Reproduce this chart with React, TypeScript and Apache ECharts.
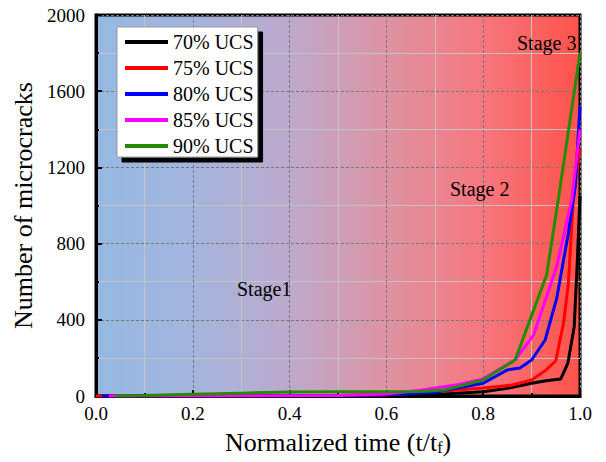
import React, { useEffect, useRef } from "react";
import * as echarts from "echarts";

// Normalized time (t/tf) and cumulative microcrack counts per load level
const t70 = [0, 0.1, 0.2, 0.3, 0.4, 0.5, 0.6, 0.67, 0.7, 0.8, 0.85, 0.9, 0.93, 0.96, 0.975, 0.988, 0.994, 1.0];
const n70 = [0, 0, 0, 0, 0, 0, 2, 5, 8, 22, 40, 67, 80, 89, 173, 364, 680, 1050];

const t75 = [0, 0.5, 0.6, 0.67, 0.7, 0.8, 0.86, 0.9, 0.93, 0.95, 0.966, 0.976, 0.986, 1.0];
const n75 = [0, 2, 5, 17, 22, 42, 58, 84, 137, 185, 383, 592, 1029, 1300];

const t80 = [0.012, 0.5, 0.6, 0.7, 0.8, 0.85, 0.876, 0.9, 0.928, 0.952, 0.976, 0.99, 1.0];
const n80 = [0, 2, 6, 20, 67, 137, 147, 189, 294, 514, 855, 1100, 1520];

const t85 = [0.027, 0.5, 0.6, 0.67, 0.75, 0.8, 0.866, 0.904, 0.952, 0.983, 1.0];
const n85 = [0, 2, 10, 30, 60, 90, 190, 320, 680, 1029, 1400];

const t90 = [0.039, 0.1, 0.2, 0.3, 0.4, 0.5, 0.6, 0.67, 0.72, 0.8, 0.866, 0.931, 0.955, 1.0];
const n90 = [0, 3, 9, 15, 21, 22, 22, 24, 31, 84, 189, 635, 1029, 1800];

const seriesNames = ["70% UCS", "75% UCS", "80% UCS", "85% UCS", "90% UCS"];
const seriesColors = ["#000000", "#ff0000", "#0000ff", "#ff00ff", "#228b00"];
const seriesT = [t70, t75, t80, t85, t90];
const seriesN = [n70, n75, n80, n85, n90];

const stageLabels = ["Stage1", "Stage 2", "Stage 3"];

const FONT = "Liberation Serif";

export default function App() {
  const ref = useRef<HTMLDivElement>(null);

  useEffect(() => {
    if (!ref.current) return;
    const chart = echarts.init(ref.current, undefined, { renderer: "svg" });

    const series = seriesNames.map((name, i) => ({
      name,
      type: "line",
      data: seriesT[i].map((t, j) => [t, seriesN[i][j]]),
      showSymbol: false,
      symbol: "none",
      lineStyle: { color: seriesColors[i], width: 3 },
      itemStyle: { color: seriesColors[i] },
      z: 3 + i,
    }));

    chart.setOption({
      animation: false,
      textStyle: { fontFamily: FONT, color: "#000" },
      grid: {
        left: 96,
        right: 26,
        top: 15,
        bottom: 66,
        outerBoundsMode: "none",
        containLabel: false,
        show: true,
        borderColor: "#000",
        borderWidth: 3,
        backgroundColor: new echarts.graphic.LinearGradient(0, 0, 1, 0, [
          { offset: 0, color: "#95b9e2" },
          { offset: 0.2, color: "#a3b4dd" },
          { offset: 0.4, color: "#bda9cc" },
          { offset: 0.6, color: "#dd93a3" },
          { offset: 0.8, color: "#f6777e" },
          { offset: 1, color: "#ff524a" },
        ]),
      },
      legend: {
        left: 117,
        top: 27,
        orient: "vertical",
        data: seriesNames,
        itemWidth: 43,
        itemHeight: 4,
        itemGap: 6,
        padding: [5, 4, 1, 8],
        backgroundColor: "#ffffff",
        borderColor: "#999999",
        borderWidth: 1,
        borderRadius: 0,
        shadowColor: "#000000",
        shadowOffsetX: 5,
        shadowOffsetY: 5,
        shadowBlur: 0,
        icon: "rect",
        textStyle: { fontFamily: FONT, fontSize: 20, color: "#000" },
      },
      xAxis: {
        type: "value",
        min: 0,
        max: 1,
        interval: 0.2,
        name: "Normalized time (t/t{sub|f})",
        nameLocation: "middle",
        nameGap: 33,
        nameTextStyle: {
          fontFamily: FONT,
          fontSize: 26,
          color: "#000",
          rich: { sub: { fontFamily: FONT, fontSize: 16, color: "#000", verticalAlign: "bottom", padding: [8, 0, 0, 0] } },
        },
        axisLine: { show: true, lineStyle: { color: "#000", width: 3 } },
        axisTick: { show: true, inside: true, length: 6, lineStyle: { color: "#000", width: 2 } },
        minorTick: { show: true, splitNumber: 2, length: 3, lineStyle: { color: "#000", width: 2 } },
        axisLabel: {
          fontFamily: FONT,
          fontSize: 19,
          color: "#000",
          margin: 8,
          formatter: (v: number) => v.toFixed(1),
        },
        splitLine: { show: true, lineStyle: { color: "#777", type: [3, 2], width: 1 } },
        minorSplitLine: { show: true, lineStyle: { color: "#c4c4c4", width: 1 } },
      },
      yAxis: {
        type: "value",
        min: 0,
        max: 2000,
        interval: 400,
        name: "Number of microcracks",
        nameLocation: "middle",
        nameGap: 58,
        nameTextStyle: { fontFamily: FONT, fontSize: 26, color: "#000" },
        axisLine: { show: true, lineStyle: { color: "#000", width: 3 } },
        axisTick: { show: true, inside: true, length: 6, lineStyle: { color: "#000", width: 2 } },
        minorTick: { show: true, splitNumber: 2, length: 3, lineStyle: { color: "#000", width: 2 } },
        axisLabel: { fontFamily: FONT, fontSize: 19, color: "#000", margin: 11, formatter: (v: number) => String(v) },
        splitLine: { show: true, lineStyle: { color: "#777", type: [3, 2], width: 1 } },
        minorSplitLine: { show: true, lineStyle: { color: "#c4c4c4", width: 1 } },
      },
      graphic: [
        { type: "text", left: 237, top: 279, z: 10, style: { text: stageLabels[0], font: `20px ${FONT}`, fill: "#000" } },
        { type: "text", left: 450, top: 179, z: 10, style: { text: stageLabels[1], font: `20px ${FONT}`, fill: "#000" } },
        { type: "text", left: 517, top: 33, z: 10, style: { text: stageLabels[2], font: `20px ${FONT}`, fill: "#000" } },
      ],
      series,
    });

    return () => chart.dispose();
  }, []);

  return <div ref={ref} style={{ position: "absolute", left: 0, top: 0, width: 606, height: 462 }} />;
}
